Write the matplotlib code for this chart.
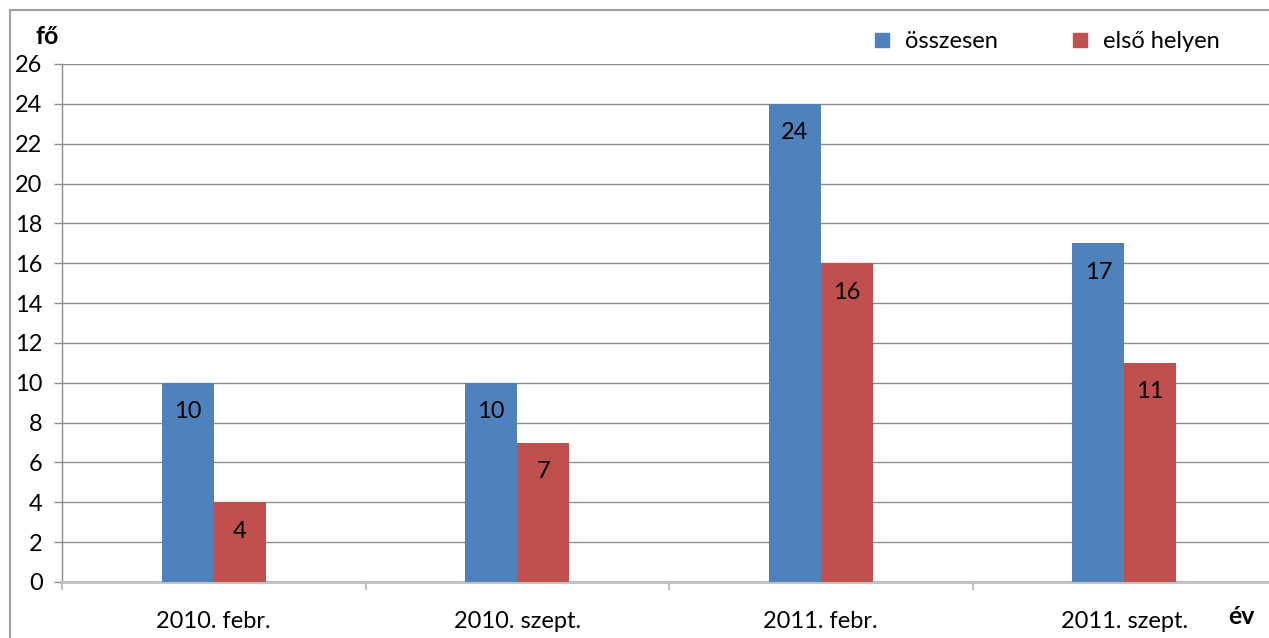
import matplotlib
matplotlib.use("Agg")
import matplotlib.pyplot as plt
from matplotlib.lines import Line2D
from matplotlib.patches import Rectangle
import numpy as np

categories = ["2010. febr.", "2010. szept.", "2011. febr.", "2011. szept."]
osszesen = [10, 10, 24, 17]
elso_helyen = [4, 7, 16, 11]
series_names = ["összesen", "első helyen"]
yticks = list(range(0, 27, 2))

BLUE = "#4F81BD"
RED = "#C0504D"
FONT = "Lato"
FS = 17

plt.rcParams['font.family'] = [FONT, 'DejaVu Sans']

W, H = 1269, 638
fig = plt.figure(figsize=(W / 100, H / 100), dpi=100)
ax = fig.add_axes([62 / W, (H - 582) / H, 1214 / W, (582 - 64) / H])

x = np.arange(len(categories))
bw = 52 / 303.5
b1 = ax.bar(x - bw / 2, osszesen, bw, color=BLUE, zorder=3)
b2 = ax.bar(x + bw / 2, elso_helyen, bw, color=RED, zorder=3)

for bars, vals in ((b1, osszesen), (b2, elso_helyen)):
    for r, v in zip(bars, vals):
        ax.annotate(str(v), (r.get_x() + r.get_width() / 2, v),
                    xytext=(0, -29), textcoords="offset pixels",
                    ha="center", va="center", fontsize=FS, color="black", zorder=4)

ax.set_xlim(-0.5, 3.5)
ax.set_ylim(0, 26)
ax.set_yticks(yticks)
ax.yaxis.grid(True, color="#8C8C8C", linewidth=1.0, zorder=0)
ax.set_axisbelow(True)

for s in ("top", "right"):
    ax.spines[s].set_visible(False)
ax.spines["left"].set_color("#8C8C8C")
ax.spines["left"].set_linewidth(1.0)
ax.spines["bottom"].set_color("#BFBFBF")
ax.spines["bottom"].set_linewidth(2.0)

ax.tick_params(axis="y", length=6, width=1, color="#8C8C8C", pad=8, labelsize=FS)
ax.set_xticks(x)
ax.set_xticklabels(categories, fontsize=FS)
ax.tick_params(axis="x", which="major", length=0, pad=21)
ax.set_xticks(np.arange(-0.5, 4.0, 1.0), minor=True)
ax.tick_params(axis="x", which="minor", length=6, width=1.5, color="#BFBFBF")

# axis titles
fig.text(35 / W, 1 - 36 / H, "fő", fontsize=18, fontweight="bold", ha="left", va="center")
fig.text(1228 / W, 1 - 617 / H, "év", fontsize=18, fontweight="bold", ha="left", va="center")

# legend
for (xm, name, col) in ((875, series_names[0], BLUE), (1073, series_names[1], RED)):
    fig.patches.append(Rectangle((xm / W, 1 - 47 / H), 14 / W, 14 / H,
                                 transform=fig.transFigure, color=col, figure=fig))
    fig.text((xm + 30) / W, 1 - 41 / H, name, fontsize=FS, ha="left", va="center")

# outer frame (left and top)
fig.add_artist(Line2D([10 / W, 10 / W], [0, 1 - 10 / H], color="#A0A0A0", linewidth=1.5,
                      transform=fig.transFigure))
fig.add_artist(Line2D([10 / W, 1], [1 - 10 / H, 1 - 10 / H], color="#A0A0A0", linewidth=1.5,
                      transform=fig.transFigure))

fig.savefig("out.png", dpi=100)
